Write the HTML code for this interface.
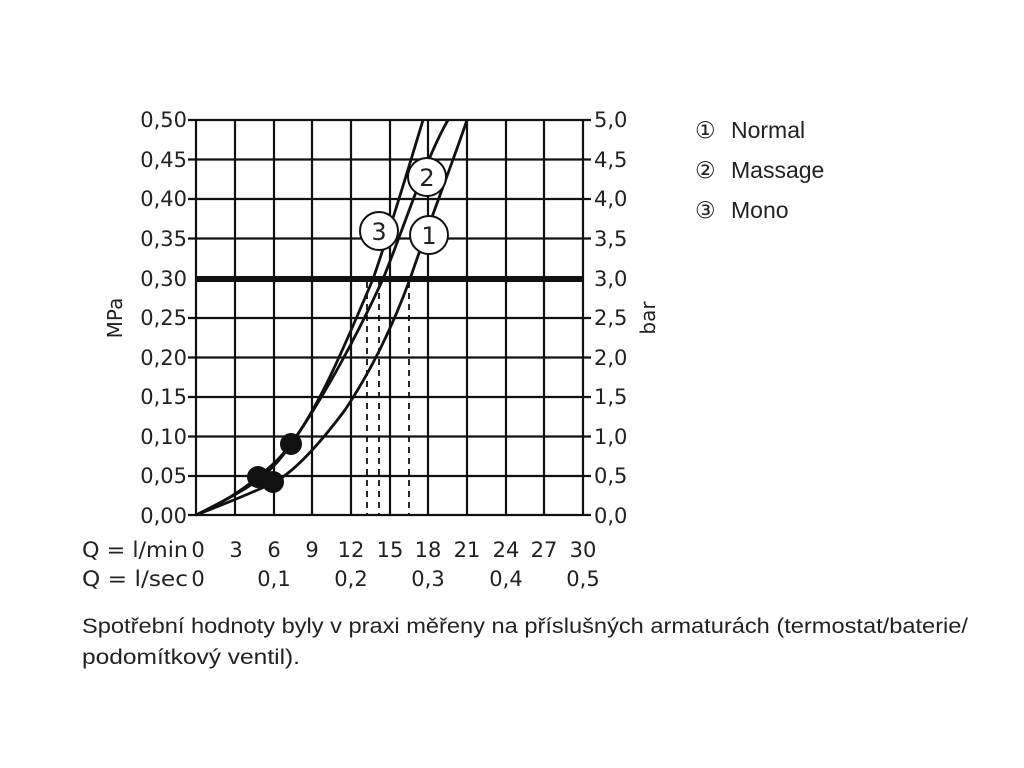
<!DOCTYPE html>
<html><head><meta charset="utf-8"><style>
html,body{margin:0;padding:0;background:#fff;}
svg{display:block}
text{font-family:"DejaVu Sans","Liberation Sans",sans-serif;fill:#222}
</style></head><body>
<svg width="1024" height="768" viewBox="0 0 1024 768" xmlns="http://www.w3.org/2000/svg">
<g stroke="#111" stroke-width="2.2" fill="none">
<line x1="196" y1="120" x2="196" y2="515"/><line x1="235" y1="120" x2="235" y2="515"/><line x1="274" y1="120" x2="274" y2="515"/><line x1="312" y1="120" x2="312" y2="515"/><line x1="351" y1="120" x2="351" y2="515"/><line x1="390" y1="120" x2="390" y2="515"/><line x1="428" y1="120" x2="428" y2="515"/><line x1="467" y1="120" x2="467" y2="515"/><line x1="506" y1="120" x2="506" y2="515"/><line x1="544" y1="120" x2="544" y2="515"/><line x1="583" y1="120" x2="583" y2="515"/>
<line x1="188" y1="120" x2="591" y2="120"/><line x1="188" y1="159.5" x2="591" y2="159.5"/><line x1="188" y1="199" x2="591" y2="199"/><line x1="188" y1="238.5" x2="591" y2="238.5"/><line x1="188" y1="318" x2="591" y2="318"/><line x1="188" y1="357.5" x2="591" y2="357.5"/><line x1="188" y1="397" x2="591" y2="397"/><line x1="188" y1="436.5" x2="591" y2="436.5"/><line x1="188" y1="476" x2="591" y2="476"/><line x1="188" y1="515" x2="591" y2="515"/>
</g>
<line x1="196" y1="279" x2="583" y2="279" stroke="#111" stroke-width="6"/>
<g stroke="#111" stroke-width="1.8" stroke-dasharray="6,5">
<line x1="367" y1="282" x2="367" y2="515"/><line x1="379" y1="282" x2="379" y2="515"/><line x1="409" y1="282" x2="409" y2="515"/>
</g>
<g stroke="#111" stroke-width="2.8" fill="none" stroke-linejoin="round">
<path d="M196,515 C225,502 245,488 258,477 C272,466 283,455 291,444 C320,405 345,345 373,279 C390,230 408,170 423,120"/>
<path d="M196,515 C228,499 248,488 262,477 C275,466 284,455 291,444 C322,400 355,340 383,279 C405,225 425,160 448,120"/>
<path d="M196,515 C235,500 258,490 275,482 C300,468 330,430 345,410 C375,365 395,320 410,279 C430,220 450,170 467,120"/>
</g>
<g fill="#111"><circle cx="258" cy="477" r="11"/><circle cx="273" cy="482" r="11"/><circle cx="291" cy="444" r="11"/></g>
<g fill="#fff" stroke="#111" stroke-width="2">
<circle cx="427" cy="177" r="19"/><circle cx="379" cy="231" r="19"/><circle cx="429" cy="235" r="19"/></g>
<g font-size="24" text-anchor="middle"><text x="427" y="186">2</text><text x="379" y="240">3</text><text x="429" y="244">1</text></g>
<g font-size="21" text-anchor="end">
<text x="187" y="127">0,50</text><text x="187" y="167">0,45</text><text x="187" y="206">0,40</text><text x="187" y="246">0,35</text><text x="187" y="286">0,30</text><text x="187" y="325">0,25</text><text x="187" y="365">0,20</text><text x="187" y="404">0,15</text><text x="187" y="444">0,10</text><text x="187" y="483">0,05</text><text x="187" y="523">0,00</text>
</g>
<g font-size="21">
<text x="594" y="127">5,0</text><text x="594" y="167">4,5</text><text x="594" y="206">4,0</text><text x="594" y="246">3,5</text><text x="594" y="286">3,0</text><text x="594" y="325">2,5</text><text x="594" y="365">2,0</text><text x="594" y="404">1,5</text><text x="594" y="444">1,0</text><text x="594" y="483">0,5</text><text x="594" y="523">0,0</text>
</g>
<text font-size="20" transform="translate(122,318) rotate(-90)" text-anchor="middle">MPa</text>
<text font-size="20" transform="translate(655,318) rotate(-90)" text-anchor="middle">bar</text>
<g font-size="21" text-anchor="middle">
<text x="198" y="557">0</text><text x="236" y="557">3</text><text x="274" y="557">6</text><text x="312" y="557">9</text><text x="351" y="557">12</text><text x="390" y="557">15</text><text x="428" y="557">18</text><text x="467" y="557">21</text><text x="506" y="557">24</text><text x="544" y="557">27</text><text x="583" y="557">30</text>
<text x="198" y="586">0</text><text x="274" y="586">0,1</text><text x="351" y="586">0,2</text><text x="428" y="586">0,3</text><text x="506" y="586">0,4</text><text x="583" y="586">0,5</text>
</g>
<g font-size="21"><text x="82" y="557" textLength="106" lengthAdjust="spacingAndGlyphs">Q = l/min</text><text x="82" y="586" textLength="106" lengthAdjust="spacingAndGlyphs">Q = l/sec</text></g>
<g font-size="23">
<text x="695" y="138" style="font-family:'DejaVu Sans',sans-serif">①</text>
<text x="695" y="178" style="font-family:'DejaVu Sans',sans-serif">②</text>
<text x="695" y="218" style="font-family:'DejaVu Sans',sans-serif">③</text>
<text x="731" y="138" style="font-family:'Liberation Sans',sans-serif">Normal</text>
<text x="731" y="178" style="font-family:'Liberation Sans',sans-serif">Massage</text>
<text x="731" y="218" style="font-family:'Liberation Sans',sans-serif">Mono</text>
</g>
<g font-size="21">
<text x="82" y="633" textLength="886" lengthAdjust="spacingAndGlyphs" style="font-family:'Liberation Sans',sans-serif">Spotřební hodnoty byly v praxi měřeny na příslušných armaturách (termostat/baterie/</text>
<text x="82" y="664" textLength="218" lengthAdjust="spacingAndGlyphs" style="font-family:'Liberation Sans',sans-serif">podomítkový ventil).</text>
</g>
</svg>
</body></html>
